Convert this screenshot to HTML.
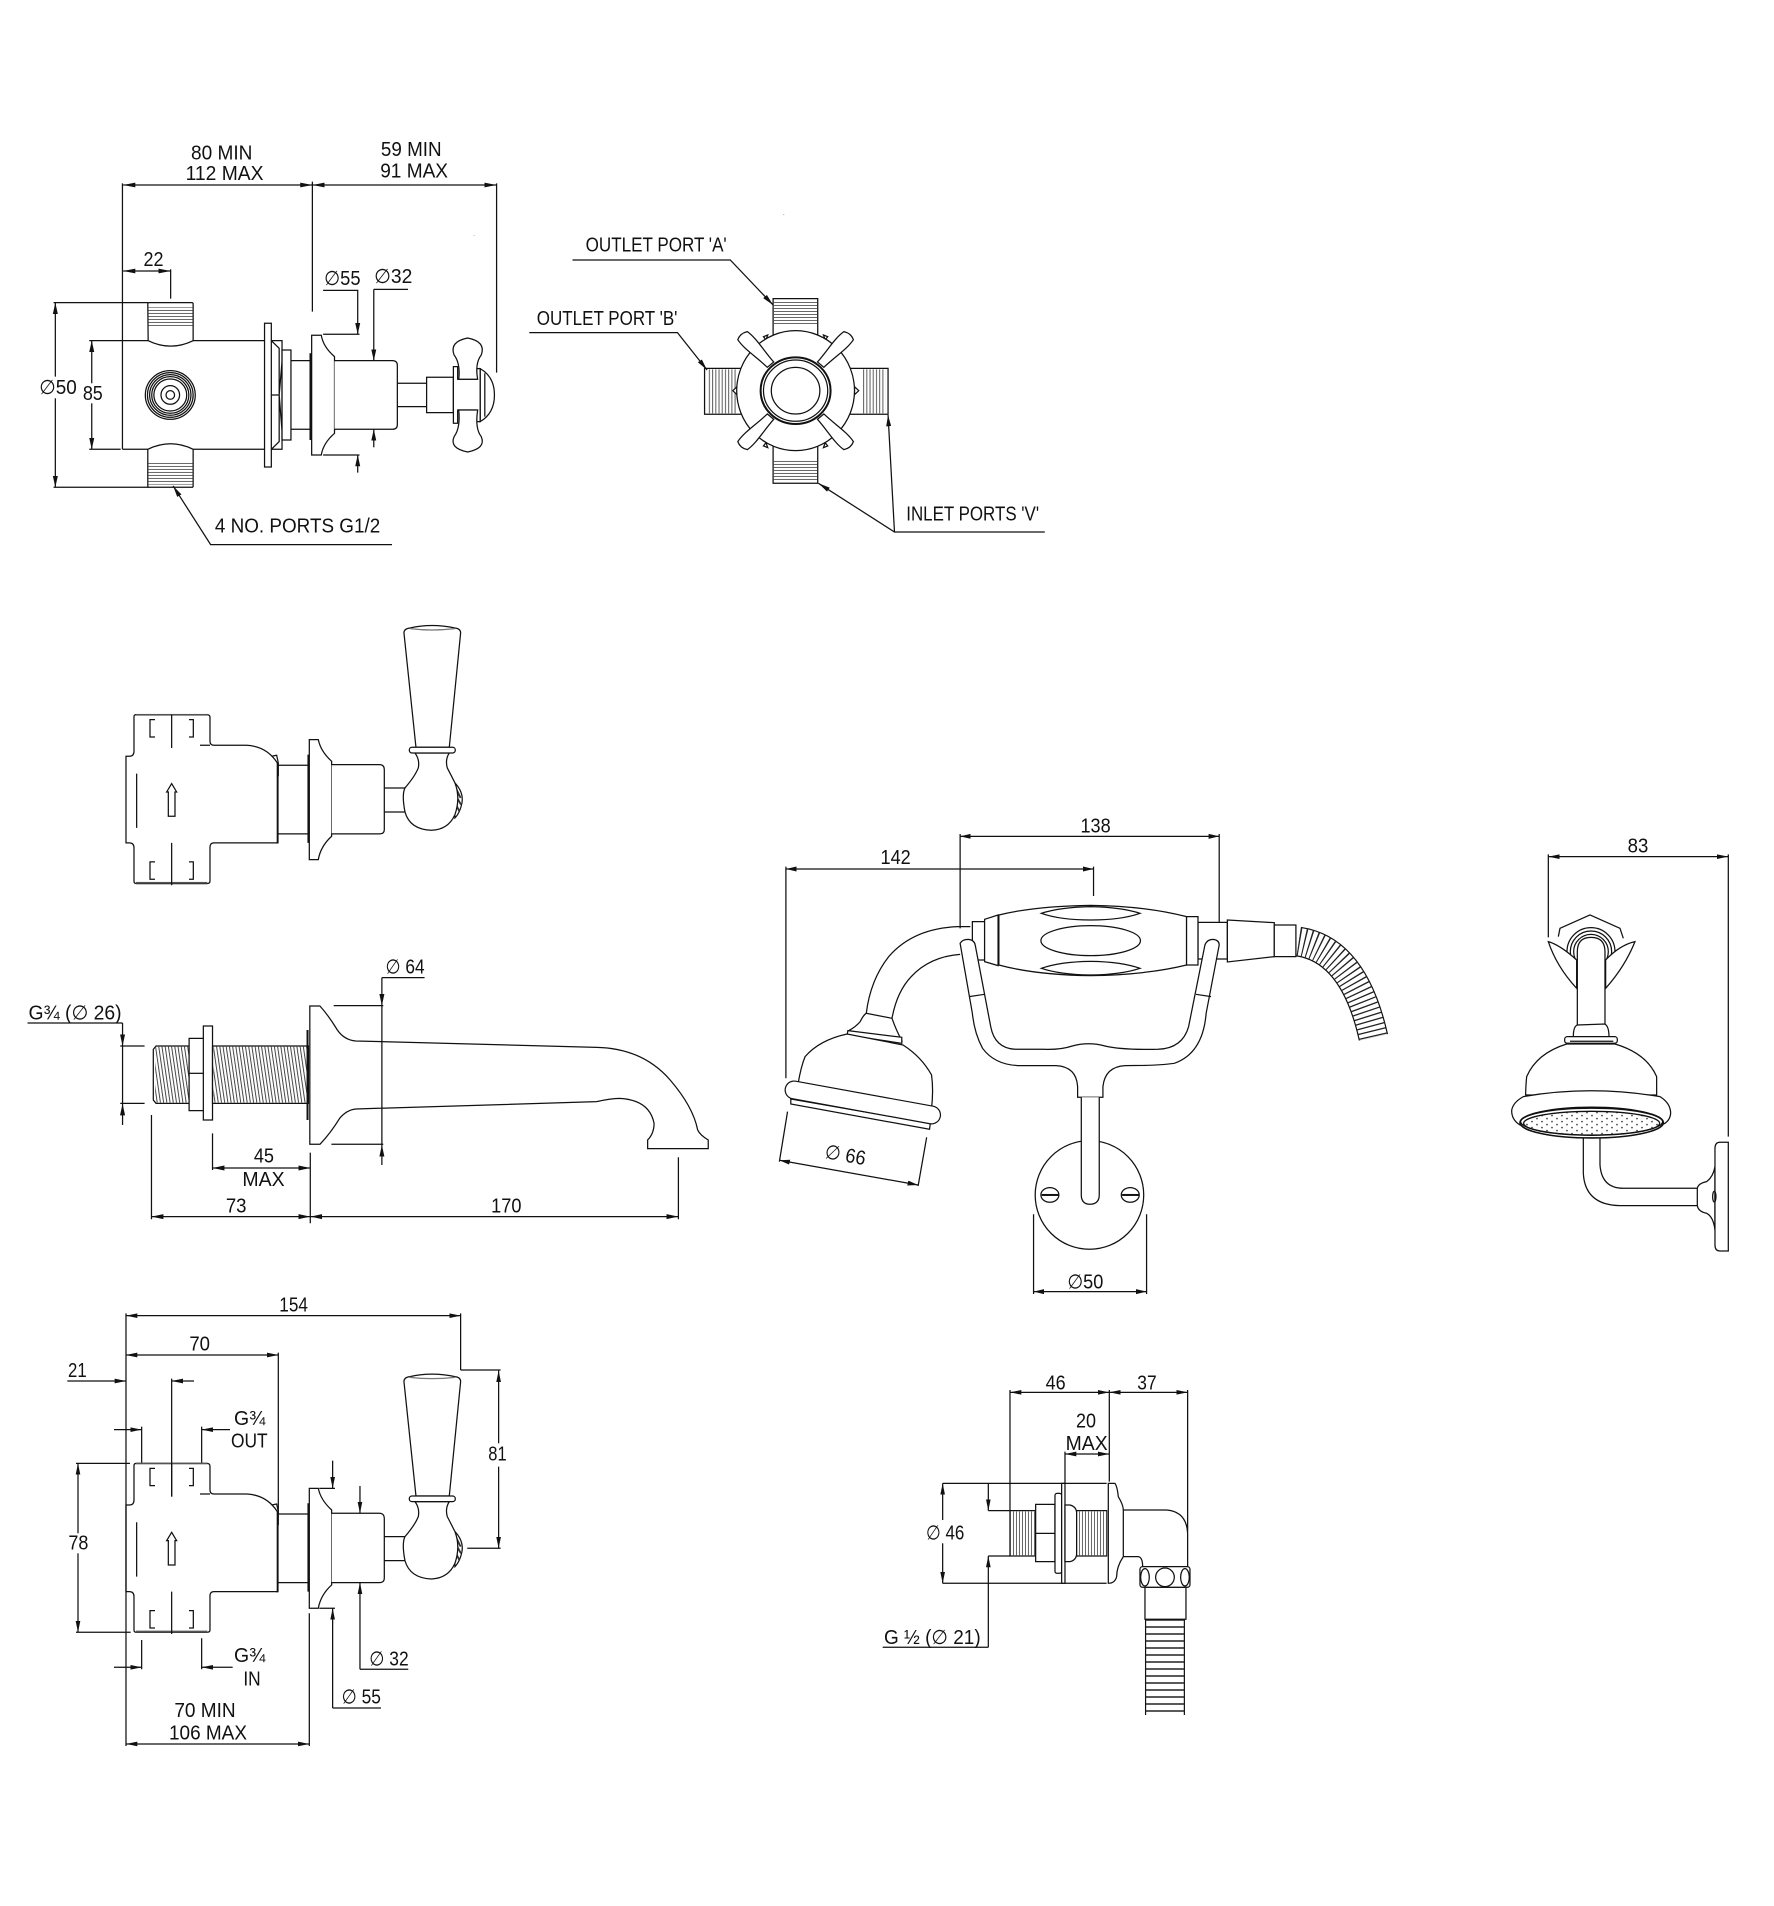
<!DOCTYPE html>
<html><head><meta charset="utf-8">
<style>
html,body{margin:0;padding:0;background:#fff}
svg{display:block}
.d{fill:none;stroke:#111;stroke-width:1.25}
.d *,#valve,#valve *,#petal,#petal *{vector-effect:non-scaling-stroke}
.t text{font-family:"Liberation Sans","DejaVu Sans",sans-serif;font-size:60px;fill:#111;stroke:none}
.w{fill:#fff}
.a{marker-end:url(#a)}
.b{marker-start:url(#a);marker-end:url(#a)}
.ah{marker-end:url(#h1)}
.bh{marker-start:url(#h1);marker-end:url(#h1)}
.av{marker-end:url(#v1)}
.bv{marker-start:url(#v1);marker-end:url(#v1)}
</style></head><body>
<svg xmlns="http://www.w3.org/2000/svg" width="1774" height="1906" viewBox="0 0 1774 1906">
<defs>
<marker id="a" markerUnits="userSpaceOnUse" viewBox="-34 -8 34 16" refX="0" refY="0" markerWidth="34" markerHeight="16" orient="auto-start-reverse"><polygon points="0,0 -34,7 -34,-7" fill="#111"/></marker>
<marker id="h1" markerUnits="userSpaceOnUse" viewBox="-26 -8 26 16" refX="0" refY="0" markerWidth="26" markerHeight="16" orient="auto-start-reverse"><polygon points="0,0 -26,7.5 -26,-7.5" fill="#111"/></marker>
<marker id="v1" markerUnits="userSpaceOnUse" viewBox="-35 -6 35 12" refX="0" refY="0" markerWidth="35" markerHeight="12" orient="auto-start-reverse"><polygon points="0,0 -35,5.5 -35,-5.5" fill="#111"/></marker>
<pattern id="h" patternUnits="userSpaceOnUse" width="10" height="9"><rect width="10" height="3" fill="#666"/></pattern>
<pattern id="v" patternUnits="userSpaceOnUse" width="9" height="10"><rect width="3" height="10" fill="#666"/></pattern>
<pattern id="vs" patternUnits="userSpaceOnUse" width="7" height="12" patternTransform="skewX(6)"><rect width="2.2" height="12" fill="#444"/></pattern>
<pattern id="dots" patternUnits="userSpaceOnUse" width="30" height="18"><circle cx="6" cy="5" r="2.6" fill="#444"/><circle cx="21" cy="14" r="2.6" fill="#444"/></pattern>

<!-- lever valve, authored in the coordinates of the lower view -->
<g id="valve">
<path class="w" d="M282,556Q282,550 290,550H500Q510,550 510,558V630Q510,642 522,642H620Q680,645 712,695V935H522Q510,935 510,948V1050Q510,1057 500,1057H290Q282,1057 282,1050V950Q282,935 268,935H258V675H268Q282,675 282,660Z"/>
<rect x="288" y="548" width="214" height="5" fill="#555" stroke="none"/>
<rect x="288" y="1052" width="214" height="5" fill="#555" stroke="none"/>
<path d="M480,642H510M345,565H330V617H345M447,565H460V617H447M345,992H330V1044H345M447,992H460V1044H447M395,550V650M395,935V1062M290,727V890"/>
<path d="M395,757L410,782H405V855H385V782H380Z"/>
<path d="M695,675L710,672L715,695V735M714,695V935H708"/>
<path d="M714,702H805M714,908H805"/>
<path d="M806,670V935" stroke-width="2.4"/>
<path class="w" d="M808,625H835Q842,660 875,690V915Q842,945 835,985H808Z"/>
<path class="w" d="M875,700H1018Q1033,700 1033,715V895Q1033,908 1018,908H875"/>
<path d="M1033,770H1095M1033,842H1095"/>
<path class="w" d="M1240,750Q1272,780 1266,815Q1260,845 1245,860Z"/>
<path d="M1245,765L1262,800M1246,790L1263,820M1246,815L1258,840" stroke="#333" stroke-width="1.8"/>
<path class="w" d="M1128,648L1092,305Q1092,292 1110,290Q1175,275 1245,290Q1262,292 1262,305L1228,648Z"/>
<path d="M1110,292Q1175,300 1245,292" stroke="#777"/>
<path class="w" d="M1125,665Q1140,685 1135,710Q1125,735 1095,770Q1085,790 1095,842Q1110,895 1175,897Q1225,895 1245,850Q1262,800 1245,755Q1235,735 1222,710Q1215,685 1228,665Z"/>
<rect class="w" x="1108" y="648" width="138" height="17" rx="8"/>
</g>
<g id="petal"><path class="w" d="M-12,-105C-14,-150 -24,-190 -18,-222Q0,-232 18,-222C24,-190 14,-150 12,-105Z"/></g>
</defs>
<rect width="1774" height="1906" fill="#fff"/>

<!-- Z1: thermostatic valve side view -->
<g class="d t" transform="translate(0,100) scale(.357,.3333)">
<path d="M343,250V825M343,722V1048M343,722H415M541,722H740M343,1048H414M541,1048H740"/>
<path class="w" d="M415,722Q478,755 541,722V612Q541,608 537,608H418Q414,608 414,612Z"/>
<rect x="416" y="622" width="123" height="60" fill="url(#h)" stroke="none"/>
<path class="w" d="M414,1048Q478,1015 541,1048V1158Q541,1162 537,1162H418Q414,1162 414,1158Z"/>
<rect x="416" y="1088" width="123" height="66" fill="url(#h)" stroke="none"/>
<ellipse cx="477" cy="885" rx="70" ry="73"/><ellipse cx="477" cy="885" rx="64" ry="67"/><ellipse cx="477" cy="885" rx="58" ry="61"/><ellipse cx="477" cy="885" rx="52" ry="55"/><ellipse cx="477" cy="885" rx="46" ry="48"/>
<ellipse cx="477" cy="885" rx="26" ry="28"/><ellipse cx="477" cy="885" rx="12" ry="13"/>
<rect class="w" x="741" y="670" width="19" height="431"/>
<path d="M760,722H790V1048H760M760,885H782L792,760M782,885L792,1020M760,722L782,745V885V1025L760,1048"/>
<rect class="w" x="790" y="750" width="25" height="270"/>
<path d="M815,782H872M815,988H872"/>
<path d="M870,760V1020" stroke-width="2.2"/>
<path class="w" d="M873,706H900Q905,740 937,770V1000Q905,1030 900,1065H873Z"/>
<path class="w" d="M937,782H1099Q1113,782 1113,796V974Q1113,988 1099,988H937"/>
<path d="M1113,850H1195M1113,920H1195"/>
<rect class="w" x="1195" y="832" width="75" height="106"/>
<path class="w" d="M1345,806Q1385,830 1385,885Q1385,940 1345,965Z"/>
<path d="M1358,820V950"/>
<path class="w" d="M1270,800H1282V838H1335V806H1345V965H1335V930H1282V970H1270Z"/>
<path class="w" d="M1285,838Q1290,790 1272,765Q1258,725 1310,714Q1362,725 1348,765Q1330,790 1338,838Z"/>
<path class="w" d="M1285,930Q1290,985 1272,1010Q1258,1045 1310,1056Q1362,1045 1348,1010Q1330,985 1338,930Z"/>
<path d="M345,255H875M875,245V635M875,255H1391M1391,250V818"/>
<path class="b" d="M345,255H875" stroke="none"/><path class="b" d="M875,255H1391" stroke="none"/>
<path d="M478,508V596"/><path class="b" d="M345,513H478"/>
<path d="M150,608H415M150,1162H415"/>
<path class="a" d="M155,830V608"/><path class="a" d="M155,895V1162"/>
<path d="M250,722H343M250,1048H338"/>
<path class="a" d="M257,850V722"/><path class="a" d="M257,910V1048"/>
<path class="a" d="M905,571H1002V703"/><path d="M905,703H1007M905,1065H1007"/><path class="a" d="M1002,1118V1065"/>
<path d="M1047,568H1143"/><path class="a" d="M1047,568V782"/><path class="a" d="M1047,1042V988"/>
<path class="a" d="M1098,1334H590L485,1158"/>
<circle cx="1328" cy="406" r="1" fill="#333" stroke="none"/>
<text x="535" y="178" textLength="172" lengthAdjust="spacingAndGlyphs">80 MIN</text>
<text x="520" y="240" textLength="218" lengthAdjust="spacingAndGlyphs">112 MAX</text>
<text x="1067" y="168" textLength="170" lengthAdjust="spacingAndGlyphs">59 MIN</text>
<text x="1065" y="233" textLength="190" lengthAdjust="spacingAndGlyphs">91 MAX</text>
<text x="402" y="498" textLength="56" lengthAdjust="spacingAndGlyphs">22</text>
<text x="908" y="555" textLength="102" lengthAdjust="spacingAndGlyphs">∅55</text>
<text x="1048" y="549" textLength="107" lengthAdjust="spacingAndGlyphs">∅32</text>
<text x="110" y="882" textLength="105" lengthAdjust="spacingAndGlyphs">∅50</text>
<text x="232" y="900" textLength="56" lengthAdjust="spacingAndGlyphs">85</text>
<text x="602" y="1298" textLength="463" lengthAdjust="spacingAndGlyphs">4 NO. PORTS G1/2</text>
</g>

<!-- Z2: valve front view -->
<g class="d t" transform="translate(500,200) scale(.357,.3333)">
<rect class="w" x="765" y="296" width="125" height="120"/><rect x="767" y="305" width="121" height="70" fill="url(#h)" stroke="none"/>
<rect class="w" x="765" y="735" width="125" height="115"/><rect x="767" y="780" width="121" height="62" fill="url(#h)" stroke="none"/>
<rect class="w" x="573" y="505" width="105" height="138"/><rect x="580" y="508" width="85" height="132" fill="url(#v)" stroke="none"/>
<rect class="w" x="980" y="505" width="107" height="138"/><rect x="1015" y="508" width="65" height="132" fill="url(#v)" stroke="none"/>
<path class="w" d="M738,410L750,405L745,420Z M918,410L906,405L911,420Z M738,738L750,743L745,728Z M918,738L906,743L911,728Z M652,572L664,560V584Z M1005,572L993,560V584Z"/>
<ellipse class="w" cx="828" cy="572" rx="165" ry="180"/>
<use href="#petal" transform="translate(828,572) rotate(-42)"/>
<use href="#petal" transform="translate(828,572) rotate(42)"/>
<use href="#petal" transform="translate(828,572) rotate(138)"/>
<use href="#petal" transform="translate(828,572) rotate(-138)"/>
<ellipse class="w" cx="828" cy="572" rx="98" ry="100" stroke-width="2"/>
<ellipse cx="828" cy="572" rx="90" ry="92"/>
<ellipse class="w" cx="828" cy="572" rx="68" ry="70"/>
<path class="a" d="M203,180H645L765,315"/>
<path class="a" d="M82,398H497L580,510"/>
<path class="a" d="M1526,996H1105L1087,645"/>
<path class="a" d="M1105,996L892,850"/>
<circle cx="795" cy="44" r="1.3" fill="#666" stroke="none"/>
<text x="240" y="155" textLength="395" lengthAdjust="spacingAndGlyphs">OUTLET PORT 'A'</text>
<text x="103" y="375" textLength="394" lengthAdjust="spacingAndGlyphs">OUTLET PORT 'B'</text>
<text x="1138" y="962" textLength="372" lengthAdjust="spacingAndGlyphs">INLET PORTS 'V'</text>
</g>

<!-- Z3: lever valve upper view -->
<g class="d" transform="translate(40,531.3) scale(.3333)"><use href="#valve"/></g>

<!-- Z4: bath spout -->
<g class="d t" transform="translate(0,930) scale(.459,.3333)">
<path class="w" d="M340,348H412V520H340L334,510V358Z"/><rect x="338" y="350" width="74" height="168" fill="url(#vs)" stroke="none"/>
<path class="w" d="M412,325H445V542H412Z"/><path d="M412,430H445"/>
<rect class="w" x="443" y="288" width="20" height="282"/>
<rect class="w" x="463" y="348" width="209" height="172"/><rect x="465" y="350" width="205" height="168" fill="url(#vs)" stroke="none"/>
<path d="M670,300V570" stroke-width="2"/>
<path class="w" d="M675,228H697Q715,255 735,300Q750,330 775,333L1300,352Q1400,355 1460,450Q1510,530 1520,600Q1525,615 1543,630V656H1411V630Q1425,610 1425,580Q1415,510 1350,505Q1330,505 1300,515L775,537Q755,540 740,565Q720,610 697,643H675Z"/>
<path d="M832,228V645M727,227H835M722,643H835M832,143H925"/>
<path class="av" d="M832,143V227"/><path class="av" d="M832,705V645"/>
<path d="M60,279H267M262,348H315M262,520H315M267,348V520"/>
<path class="av" d="M267,279V348"/><path class="av" d="M267,585V521"/>
<path d="M463,610V720M676,668V880M330,555V868M1478,682V868"/>
<path class="bh" d="M463,714H676"/>
<path class="bh" d="M330,860H676"/>
<path class="bh" d="M676,860H1478"/>
<text x="62" y="268" textLength="203" lengthAdjust="spacingAndGlyphs">G¾ (∅ 26)</text>
<text x="840" y="130" textLength="85" lengthAdjust="spacingAndGlyphs">∅ 64</text>
<text x="553" y="698" textLength="44" lengthAdjust="spacingAndGlyphs">45</text>
<text x="528" y="768" textLength="92" lengthAdjust="spacingAndGlyphs">MAX</text>
<text x="492" y="848" textLength="45" lengthAdjust="spacingAndGlyphs">73</text>
<text x="1070" y="848" textLength="66" lengthAdjust="spacingAndGlyphs">170</text>
</g>

<!-- Z5: handset and cradle -->
<g class="d t" transform="translate(750,800) scale(.408,.3333)">
<path d="M515,102V385M1150,102V390M88,200V835M842,200V288"/>
<path class="bh" d="M515,109H1150"/>
<path class="bh" d="M88,207H842"/>
<ellipse cx="832" cy="1185" rx="133" ry="163" class="w"/>
<path d="M540,380H510Q400,385 340,470Q295,540 285,640M515,463Q440,470 395,530Q360,575 348,655"/>
<path class="w" d="M285,640Q278,645 270,665Q260,680 242,692L372,722Q358,690 348,655Z"/>
<path class="w" d="M240,692L372,712V730L238,705Z"/>
<path class="w" d="M238,702Q170,720 135,770Q125,800 118,850L445,925Q450,870 445,825Q420,770 375,735Z"/>
<path class="w" d="M100,897L442,970L440,988L100,912Z"/>
<path d="M108,870L445,945" stroke="#111" stroke-width="19" stroke-linecap="round"/>
<path d="M108,870L445,945" stroke="#fff" stroke-width="16.6" stroke-linecap="round"/>
<path d="M1345,425Q1480,450 1528,712" stroke="#111" stroke-width="30"/>
<path d="M1345,425Q1480,450 1528,712" stroke="#fff" stroke-width="27.6"/>
<path d="M1345,425Q1480,450 1528,712" stroke="#222" stroke-width="28" stroke-dasharray="1.3 3.8"/>
<path class="w" d="M1098,367H1170V477H1098Z"/>
<path class="w" d="M1170,360L1285,368V470L1170,486Z"/>
<rect class="w" x="1285" y="375" width="53" height="95"/>
<rect class="w" x="545" y="365" width="30" height="115"/>
<path class="w" d="M575,358L608,345V497L575,485Z"/>
<path class="w" d="M610,345Q700,318 835,316Q970,318 1070,350V495Q970,525 835,527Q700,525 610,495Z"/>
<rect class="w" x="1070" y="350" width="28" height="145"/>
<path d="M714,340Q760,322 835,320Q910,322 956,340Q910,360 835,360Q760,360 714,340Z"/>
<ellipse cx="835" cy="422" rx="122" ry="45"/>
<path d="M714,505Q760,485 835,484Q910,485 956,505Q910,524 835,525Q760,524 714,505Z"/>
<path class="w" d="M515,430Q520,418 535,418Q550,420 552,435L590,680Q600,745 650,748H720Q760,750 790,738Q830,725 870,738Q910,750 1000,748Q1060,745 1075,680L1115,435Q1120,418 1135,418Q1150,420 1150,435L1118,640Q1110,760 1040,790Q1000,797 920,797Q870,800 865,860V892H803V860Q800,800 750,797H660Q600,795 570,745Q550,700 545,640Z"/>
<path d="M537,590L575,583M1093,583L1130,590"/>
<path class="w" d="M812,892V1185Q812,1212 833,1213Q856,1212 856,1185V892"/>
<ellipse class="w" cx="735" cy="1185" rx="22" ry="22"/><ellipse class="w" cx="932" cy="1185" rx="22" ry="22"/>
<rect x="715" y="1182" width="42" height="6" fill="#111" stroke="none"/><rect x="912" y="1182" width="42" height="6" fill="#111" stroke="none"/>
<path d="M92,935L72,1085M433,1012L412,1158M695,1243V1482M972,1243V1482"/>
<path class="bh" d="M72,1081L412,1155"/>
<path class="bh" d="M695,1475H972"/>
<text x="810" y="98" textLength="74" lengthAdjust="spacingAndGlyphs">138</text>
<text x="320" y="192" textLength="74" lengthAdjust="spacingAndGlyphs">142</text>
<text x="778" y="1465" textLength="88" lengthAdjust="spacingAndGlyphs">∅50</text>
</g>
<text transform="translate(824,1158) rotate(10)" x="0" y="0" textLength="41" lengthAdjust="spacingAndGlyphs" style="font-family:'Liberation Sans','DejaVu Sans',sans-serif;font-size:20px;fill:#111">∅ 66</text>

<!-- Z6: shower head -->
<g class="d t" transform="translate(1460,820) scale(.3333)">
<path d="M265,103V352M805,103V950"/>
<path class="b" d="M265,110H805"/>
<path d="M295,350L300,325L390,285L480,325L490,355"/>
<ellipse cx="393" cy="395" rx="72" ry="72"/><ellipse cx="393" cy="395" rx="62" ry="62"/><ellipse cx="393" cy="395" rx="52" ry="52"/>
<path class="w" d="M265,365Q300,375 350,420V505Q290,440 265,365Z"/>
<path class="w" d="M525,365Q480,375 437,420V505Q495,440 525,365Z"/>
<path class="w" d="M352,615V395Q352,352 393,352Q435,352 435,395V615"/>
<path class="w" d="M352,615Q340,620 340,650H447Q447,620 435,612Z"/>
<path class="w" d="M320,672Q230,700 200,770Q197,800 197,825H590V770Q560,700 465,672Z"/>
<rect class="w" x="314" y="650" width="158" height="20" rx="8"/>
<path d="M330,664H460"/>
<path class="w" d="M190,830Q390,795 600,830Q632,850 632,880Q630,905 605,915H180Q155,900 155,872Q158,848 190,830Z"/>
<path d="M370,950V1060Q375,1155 480,1157H712M420,950V1035Q425,1105 490,1105H712"/>
<ellipse class="w" cx="395" cy="908" rx="215" ry="46" stroke-width="1.6"/>
<ellipse cx="395" cy="905" rx="213" ry="40"/>
<ellipse cx="395" cy="910" rx="204" ry="36" fill="url(#dots)" stroke-width="1.3"/>
<path class="w" d="M712,1105Q715,1090 740,1085Q760,1070 765,1040V1230Q760,1190 740,1180Q715,1175 712,1157Z"/>
<path class="w" d="M805,967H780Q765,967 765,985V1275Q765,1293 780,1293H805Z"/>
<ellipse cx="763" cy="1130" rx="5" ry="16"/>
<text x="503" y="97" textLength="62" lengthAdjust="spacingAndGlyphs">83</text>
</g>

<!-- Z7: lever valve lower view with dims -->
<g class="d t" transform="translate(40,1280) scale(.3333)">
<use href="#valve"/>
<path d="M258,100V1398M1262,100V270M1262,270H1382M1282,805H1382M715,218V700M395,296V650M485,440V548M305,440V548M305,1080V1168M485,1075V1168M108,550H270M108,1057H272M808,1000V1398M838,625H885M838,985H885M1105,1168H960M1023,1284H878"/>
<path class="b" d="M258,107H1262"/>
<path class="a" d="M1376,490V272"/><path class="a" d="M1376,560V805"/>
<path class="b" d="M258,225H715"/>
<path class="a" d="M82,303H258"/><path class="a" d="M462,303H395"/>
<path class="a" d="M570,449H485"/><path class="a" d="M222,449H305"/>
<path class="a" d="M222,1162H305"/><path class="a" d="M578,1162H485"/>
<path class="a" d="M114,760V550"/><path class="a" d="M114,820V1057"/>
<path class="b" d="M258,1392H808"/>
<path class="a" d="M960,1168V908"/><path class="a" d="M960,618V700"/>
<path class="a" d="M878,1284V985"/><path class="a" d="M878,542V625"/>
<text x="718" y="95" textLength="86" lengthAdjust="spacingAndGlyphs">154</text>
<text x="448" y="212" textLength="62" lengthAdjust="spacingAndGlyphs">70</text>
<text x="84" y="291" textLength="56" lengthAdjust="spacingAndGlyphs">21</text>
<text x="582" y="435" textLength="94" lengthAdjust="spacingAndGlyphs">G¾</text>
<text x="573" y="502" textLength="110" lengthAdjust="spacingAndGlyphs">OUT</text>
<text x="582" y="1146" textLength="94" lengthAdjust="spacingAndGlyphs">G¾</text>
<text x="610" y="1216" textLength="52" lengthAdjust="spacingAndGlyphs">IN</text>
<text x="85" y="808" textLength="60" lengthAdjust="spacingAndGlyphs">78</text>
<text x="1345" y="542" textLength="55" lengthAdjust="spacingAndGlyphs">81</text>
<text x="403" y="1311" textLength="184" lengthAdjust="spacingAndGlyphs">70 MIN</text>
<text x="387" y="1379" textLength="234" lengthAdjust="spacingAndGlyphs">106 MAX</text>
<text x="988" y="1157" textLength="118" lengthAdjust="spacingAndGlyphs">∅ 32</text>
<text x="905" y="1271" textLength="118" lengthAdjust="spacingAndGlyphs">∅ 55</text>
</g>

<!-- Z8: wall outlet -->
<g class="d t" transform="translate(860,1350) scale(.3333)">
<path d="M450,120V482M748,120V395M983,120V545M615,305V400M248,400H740M248,700H740M385,482H450M385,618H450M68,892H385"/>
<path class="b" d="M450,127H748"/><path class="b" d="M748,127H983"/><path class="b" d="M615,312H748"/>
<path class="a" d="M248,510V400"/><path class="a" d="M248,580V700"/>
<path class="a" d="M385,400V482"/><path class="a" d="M385,892V618"/>
<rect class="w" x="450" y="482" width="77" height="136"/><rect x="452" y="484" width="75" height="132" fill="url(#v)" stroke="none"/>
<rect class="w" x="527" y="463" width="58" height="172"/><path d="M527,550H585"/>
<rect class="w" x="585" y="430" width="20" height="240" rx="6"/>
<rect class="w" x="605" y="400" width="10" height="300"/>
<path class="w" d="M615,465H630Q650,470 650,490V610Q650,630 630,635H615Z"/>
<rect class="w" x="650" y="482" width="90" height="136"/><rect x="652" y="484" width="88" height="132" fill="url(#v)" stroke="none"/>
<path class="w" d="M745,400H765Q772,410 775,440Q790,465 790,480V620Q770,650 770,680Q765,700 745,700Z"/>
<path d="M790,480H920Q980,485 983,550V650M790,620H835Q848,622 848,650"/>
<path d="M915,808V1095" stroke="#111" stroke-width="40"/>
<path d="M915,808V1095" stroke="#fff" stroke-width="37.6"/>
<path d="M915,808V1095" stroke="#222" stroke-width="38" stroke-dasharray="1.4 5.6"/>
<rect class="w" x="855" y="712" width="123" height="96"/>
<rect class="w" x="840" y="650" width="150" height="62" rx="8"/>
<ellipse cx="915" cy="682" rx="28" ry="28"/><ellipse cx="855" cy="682" rx="13" ry="26"/><ellipse cx="975" cy="682" rx="13" ry="26"/>
<text x="557" y="118" textLength="60" lengthAdjust="spacingAndGlyphs">46</text>
<text x="832" y="118" textLength="58" lengthAdjust="spacingAndGlyphs">37</text>
<text x="648" y="232" textLength="60" lengthAdjust="spacingAndGlyphs">20</text>
<text x="617" y="300" textLength="126" lengthAdjust="spacingAndGlyphs">MAX</text>
<text x="198" y="568" textLength="115" lengthAdjust="spacingAndGlyphs">∅ 46</text>
<text x="72" y="882" textLength="290" lengthAdjust="spacingAndGlyphs">G ½ (∅ 21)</text>
</g>
</svg>
</body></html>
